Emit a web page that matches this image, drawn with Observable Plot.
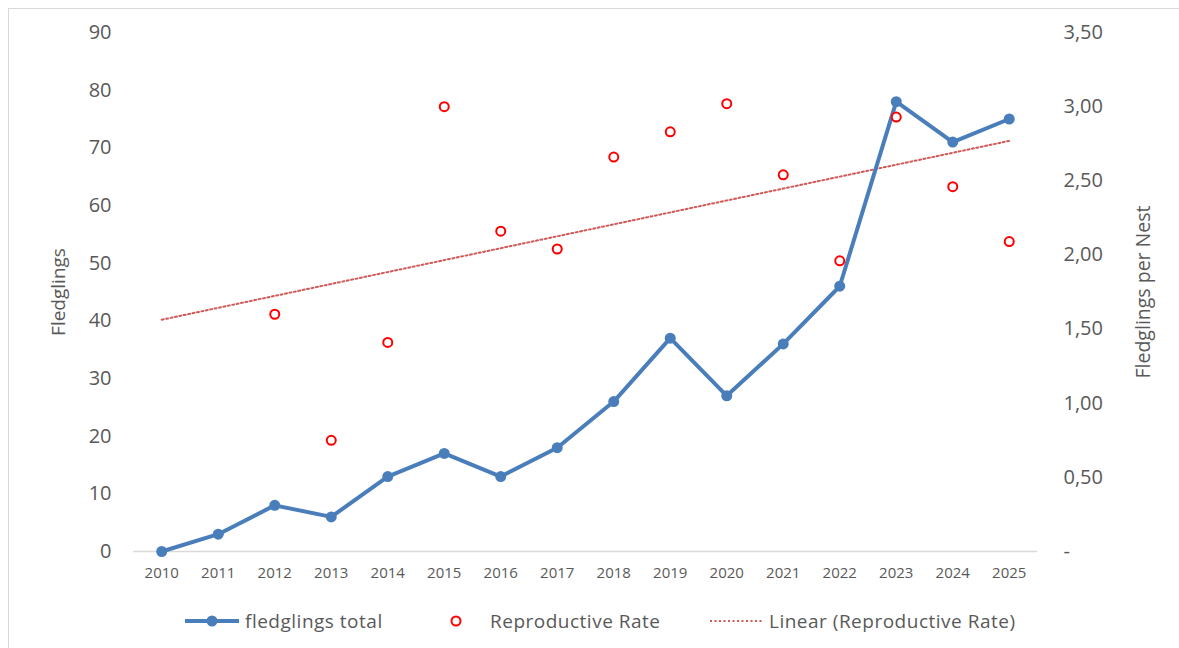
<!DOCTYPE html>
<html>
<head>
<meta charset="utf-8">
<script src="https://cdn.jsdelivr.net/npm/d3@7"></script>
<script src="https://cdn.jsdelivr.net/npm/@observablehq/plot@0.6"></script>
<style>
  html, body { margin: 0; padding: 0; background: #fff; }
  #wrap { position: relative; width: 1179px; height: 648px; overflow: hidden; font-family: "Open Sans", sans-serif; }
  #frame { position: absolute; left: 8px; top: 8px; width: 1200px; height: 700px; border-left: 1px solid #d9d9d9; border-top: 1px solid #d9d9d9; }
  #chart { position: absolute; left: 0; top: 0; }
  #legend { position: absolute; left: 0; top: 606px; width: 1179px; height: 30px; color: #595959; font-size: 19px; letter-spacing: 0.5px; }
  .item { position: absolute; top: 0; height: 30px; display: flex; align-items: center; white-space: nowrap; }
  .item svg { display: block; }
</style>
</head>
<body>
<div id="wrap">
  <div id="frame"></div>
  <div id="chart"></div>
  <div id="legend"></div>
</div>
<script>
// ---- data ----
const years = [2010, 2011, 2012, 2013, 2014, 2015, 2016, 2017, 2018, 2019, 2020, 2021, 2022, 2023, 2024, 2025];
const fledglingsTotal = [0, 3, 8, 6, 13, 17, 13, 18, 26, 37, 27, 36, 46, 78, 71, 75];
const rateYears = [2012, 2013, 2014, 2015, 2016, 2017, 2018, 2019, 2020, 2021, 2022, 2023, 2024, 2025];
const reproductiveRate = [1.60, 0.75, 1.41, 3.00, 2.16, 2.04, 2.66, 2.83, 3.02, 2.54, 1.96, 2.93, 2.46, 2.09];
const leftTicks = [0, 10, 20, 30, 40, 50, 60, 70, 80, 90];
const rightTicks = [0, 0.5, 1.0, 1.5, 2.0, 2.5, 3.0, 3.5];
const rightTickLabels = ["-", "0,50", "1,00", "1,50", "2,00", "2,50", "3,00", "3,50"];
const leftTitle = "Fledglings";
const rightTitle = "Fledglings per Nest";
const leftMax = 90, rightMax = 3.5;

// ---- derived tables ----
const k = leftMax / rightMax; // map right-axis values onto left scale
const totalData = years.map((y, i) => ({year: y, v: fledglingsTotal[i]}));
const rateData = rateYears.map((y, i) => ({year: y, v: reproductiveRate[i] * k}));
// linear trendline (least squares on rate data), extended over full year range
const mx = d3.mean(rateYears), my = d3.mean(reproductiveRate);
const slope = d3.sum(rateYears, (x, i) => (x - mx) * (reproductiveRate[i] - my)) / d3.sum(rateYears, x => (x - mx) ** 2);
const icpt = my - slope * mx;
const trendData = [years[0], years[years.length - 1]].map(y => ({year: y, v: (icpt + slope * y) * k}));

const blue = "#4a7ebb", red = "#ff0000", trendColor = "#d05a57", grey = "#595959";

const chart = Plot.plot({
  width: 1179,
  height: 600,
  marginTop: 32,
  marginBottom: 49,
  marginLeft: 133,
  marginRight: 142,
  style: {fontFamily: "Open Sans, sans-serif", color: grey, background: "transparent"},
  x: {type: "point", domain: years, padding: 0.5, round: false},
  y: {domain: [0, leftMax]},
  marks: [
    Plot.ruleY([0], {stroke: "#d9d9d9", strokeWidth: 1.5}),
    Plot.axisX({ticks: years, tickSize: 0, tickPadding: 16, tickFormat: d => String(d), fontSize: 15, label: null}),
    Plot.axisY({ticks: leftTicks, anchor: "left", tickSize: 0, tickPadding: 22, fontSize: 20, label: null}),
    Plot.axisY({ticks: rightTicks.map(v => v * k), anchor: "right", tickSize: 0, tickPadding: 26, fontSize: 20,
      tickFormat: d => rightTickLabels[Math.round(d / k / 0.5)], label: null}),
    Plot.text([leftTitle], {frameAnchor: "left", dx: -75, rotate: -90, textAnchor: "middle", lineAnchor: "middle", fontSize: 19, fill: grey}),
    Plot.text([rightTitle], {frameAnchor: "right", dx: 106, rotate: -90, textAnchor: "middle", lineAnchor: "middle", fontSize: 19.5, fill: grey}),
    Plot.line(trendData, {x: "year", y: "v", stroke: trendColor, strokeWidth: 2, strokeDasharray: "2,2.5"}),
    Plot.line(totalData, {x: "year", y: "v", stroke: blue, strokeWidth: 4, strokeLinejoin: "round"}),
    Plot.dot(totalData, {x: "year", y: "v", fill: blue, r: 5.5}),
    Plot.dot(rateData, {x: "year", y: "v", stroke: red, fill: "white", r: 4.5, strokeWidth: 2})
  ]
});
document.getElementById("chart").appendChild(chart);

// ---- legend ----
const legend = document.getElementById("legend");
const items = [
  {left: 184, sw: `<svg width="56" height="20"><line x1="1" y1="10" x2="55" y2="10" stroke="${blue}" stroke-width="4"/><circle cx="28" cy="10" r="5.5" fill="${blue}"/></svg>`, text: "fledglings total", gap: 5},
  {left: 448, sw: `<svg width="16" height="20"><circle cx="8" cy="10" r="4.5" fill="white" stroke="${red}" stroke-width="2"/></svg>`, text: "Reproductive Rate", gap: 26},
  {left: 709, sw: `<svg width="54" height="20"><line x1="1" y1="10" x2="53" y2="10" stroke="${trendColor}" stroke-width="2" stroke-dasharray="2,2.5"/></svg>`, text: "Linear (Reproductive Rate)", gap: 6}
];
for (const it of items) {
  const d = document.createElement("div");
  d.className = "item";
  d.style.left = it.left + "px";
  d.innerHTML = it.sw + `<span style="margin-left:${it.gap}px">${it.text}</span>`;
  legend.appendChild(d);
}
</script>
</body>
</html>
